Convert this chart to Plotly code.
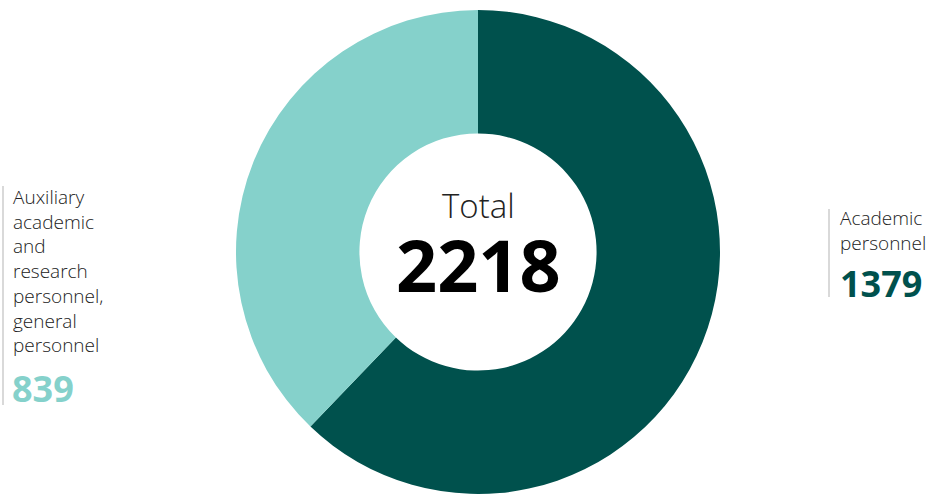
import plotly.graph_objects as go

categories = ["Academic personnel", "Auxiliary academic and research personnel, general personnel"]
values = [1379, 839]
colors = ["#00514D", "#85D1CB"]
total = sum(values)

W, H = 928, 495

fig = go.Figure()
fig.add_trace(go.Pie(
    labels=categories,
    values=values,
    hole=0.49,
    sort=False,
    direction="clockwise",
    rotation=0,
    marker=dict(colors=colors, line=dict(width=0)),
    textinfo="none",
    hoverinfo="label+value",
    showlegend=False,
    domain=dict(x=[236 / W, 720 / W], y=[1 - 494 / H, 1 - 10 / H]),
))

font = "Open Sans, Segoe UI, sans-serif"
txt = "#222222"

def px(x, y):
    return x / W, 1 - y / H

anns = []
# centre
x, y = px(478, 205)
anns.append(dict(x=x, y=y, xref="paper", yref="paper", text="Total", showarrow=False,
                 xanchor="center", yanchor="middle",
                 font=dict(family=font, size=33, color=txt, weight=300)))
x, y = px(478, 264)
anns.append(dict(x=x, y=y, xref="paper", yref="paper", text=str(total), showarrow=False,
                 xanchor="center", yanchor="middle",
                 font=dict(family=font, size=72, color="#000000", weight=700)))

# left label
x, y = px(11, 182)
anns.append(dict(x=x, y=y, xref="paper", yref="paper",
                 text="Auxiliary<br>academic<br>and<br>research<br>personnel,<br>general<br>personnel",
                 showarrow=False, xanchor="left", yanchor="top", align="left",
                 font=dict(family=font, size=19, color=txt, weight=300)))
x, y = px(10, 388)
anns.append(dict(x=x, y=y, xref="paper", yref="paper", text=str(values[1]), showarrow=False,
                 xanchor="left", yanchor="middle",
                 font=dict(family=font, size=36, color=colors[1], weight=700)))

# right label
x, y = px(838, 203)
anns.append(dict(x=x, y=y, xref="paper", yref="paper", text="Academic<br>personnel",
                 showarrow=False, xanchor="left", yanchor="top", align="left",
                 font=dict(family=font, size=19, color=txt, weight=300)))
x, y = px(838, 283)
anns.append(dict(x=x, y=y, xref="paper", yref="paper", text=str(values[0]), showarrow=False,
                 xanchor="left", yanchor="middle",
                 font=dict(family=font, size=36, color=colors[0], weight=700)))

shapes = [
    dict(type="line", xref="paper", yref="paper", x0=3 / W, x1=3 / W,
         y0=1 - 186 / H, y1=1 - 405 / H, line=dict(color="#cccccc", width=1.5)),
    dict(type="line", xref="paper", yref="paper", x0=829 / W, x1=829 / W,
         y0=1 - 209 / H, y1=1 - 297 / H, line=dict(color="#cccccc", width=1.5)),
]

fig.update_layout(
    width=W, height=H,
    margin=dict(l=0, r=0, t=0, b=0),
    paper_bgcolor="white", plot_bgcolor="white",
    annotations=anns, shapes=shapes,
)

fig.write_html("out.html", config={"displayModeBar": False},
               post_script="document.body.style.margin='0px';document.body.style.overflow='hidden';")
